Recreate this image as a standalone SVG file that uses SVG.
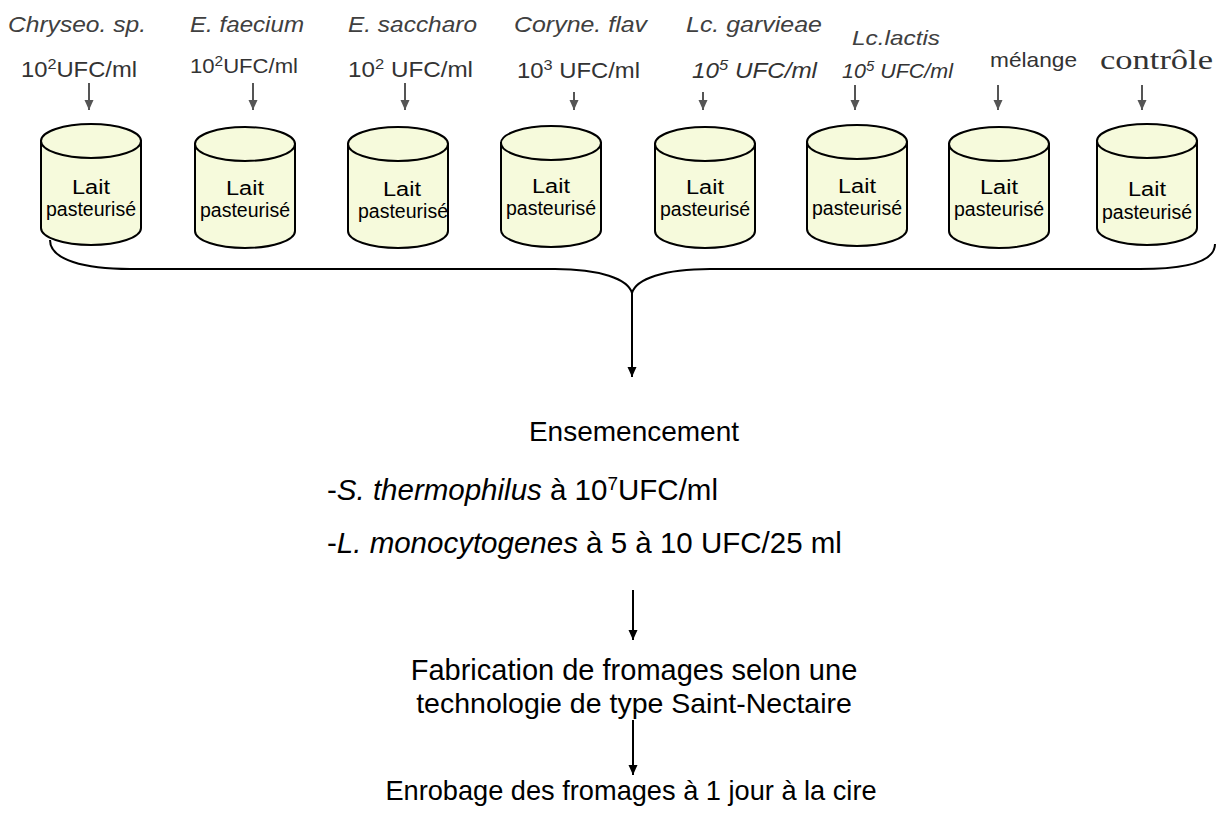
<svg xmlns="http://www.w3.org/2000/svg" width="1222" height="826" viewBox="0 0 1222 826">
<defs>
<style>
text{font-family:"Liberation Sans",Arial,sans-serif}
.sp{font-size:22px;font-style:italic;fill:#404040}
.cc{font-size:22px;fill:#333}
.ci{font-size:22px;font-style:italic;fill:#333}
.ser{font-family:"Liberation Serif","Times New Roman",serif;font-size:27px;fill:#333}
.cyl{fill:#f6fadc;stroke:#000;stroke-width:2}
.lt{font-size:20px;fill:#000;text-anchor:middle}
.main{font-size:28px;fill:#000}
.sa{stroke:#555;stroke-width:2;fill:none}
.ba{stroke:#000;stroke-width:2;fill:none}
</style>
<marker id="ah" viewBox="0 0 10 10" refX="10" refY="5" markerWidth="10" markerHeight="10" markerUnits="userSpaceOnUse" orient="auto"><path d="M0,0.5 L10,5 L0,9.5 Z" fill="#555"/></marker>
<marker id="bh" viewBox="0 0 10 10" refX="10" refY="5" markerWidth="11" markerHeight="10" markerUnits="userSpaceOnUse" orient="auto"><path d="M0,0.5 L10,5 L0,9.5 Z" fill="#000"/></marker>
<g id="cylshape">
<path class="cyl" d="M-50,17 L-50,104 A50,17 0 0 0 50,104 L50,17 Z"/>
<ellipse class="cyl" cx="0" cy="17" rx="50" ry="17"/>
</g>
</defs>

<g id="labels">
<text class="sp" x="8" y="32" textLength="138" lengthAdjust="spacingAndGlyphs">Chryseo. sp.</text>
<text class="sp" x="190" y="32" textLength="114" lengthAdjust="spacingAndGlyphs">E. faecium</text>
<text class="sp" x="348" y="32" textLength="129" lengthAdjust="spacingAndGlyphs">E. saccharo</text>
<text class="sp" x="514" y="32" textLength="133" lengthAdjust="spacingAndGlyphs">Coryne. flav</text>
<text class="sp" x="686" y="32" textLength="136" lengthAdjust="spacingAndGlyphs">Lc. garvieae</text>
<text class="sp" x="852" y="45" textLength="88" lengthAdjust="spacingAndGlyphs" style="font-size:21px">Lc.lactis</text>

<text class="cc" x="21" y="77" textLength="116" lengthAdjust="spacingAndGlyphs">10<tspan dy="-8" font-size="15">2</tspan><tspan dy="8">UFC/ml</tspan></text>
<text class="cc" x="190" y="73" textLength="108" lengthAdjust="spacingAndGlyphs" style="font-size:20px">10<tspan dy="-7" font-size="14">2</tspan><tspan dy="7">UFC/ml</tspan></text>
<text class="cc" x="348" y="77" textLength="125" lengthAdjust="spacingAndGlyphs">10<tspan dy="-8" font-size="15">2</tspan><tspan dy="8"> UFC/ml</tspan></text>
<text class="cc" x="517" y="78" textLength="123" lengthAdjust="spacingAndGlyphs">10<tspan dy="-8" font-size="15">3</tspan><tspan dy="8"> UFC/ml</tspan></text>
<text class="ci" x="692" y="78" textLength="125" lengthAdjust="spacingAndGlyphs">10<tspan dy="-8" font-size="15">5</tspan><tspan dy="8"> UFC/ml</tspan></text>
<text class="ci" x="842" y="78" textLength="111" lengthAdjust="spacingAndGlyphs" style="font-size:20px">10<tspan dy="-7" font-size="14">5</tspan><tspan dy="7"> UFC/ml</tspan></text>
<text class="cc" x="990" y="67" textLength="87" lengthAdjust="spacingAndGlyphs" style="font-size:21px">mélange</text>
<text class="ser" x="1100" y="69" textLength="113" lengthAdjust="spacingAndGlyphs">contrôle</text>
</g>

<g id="cyl1" transform="translate(91,124)"><use href="#cylshape"/><text class="lt" x="0" y="70" textLength="38" lengthAdjust="spacingAndGlyphs">Lait</text><text class="lt" x="0" y="92" textLength="90" lengthAdjust="spacingAndGlyphs">pasteurisé</text></g>
<g id="cyl2" transform="translate(245,127)"><use href="#cylshape"/><text class="lt" x="0" y="68" textLength="38" lengthAdjust="spacingAndGlyphs">Lait</text><text class="lt" x="0" y="90" textLength="90" lengthAdjust="spacingAndGlyphs">pasteurisé</text></g>
<g id="cyl3" transform="translate(398,127)"><use href="#cylshape"/><text class="lt" x="4" y="69" textLength="38" lengthAdjust="spacingAndGlyphs">Lait</text><text class="lt" x="5" y="91" textLength="90" lengthAdjust="spacingAndGlyphs">pasteurisé</text></g>
<g id="cyl4" transform="translate(551,126)"><use href="#cylshape"/><text class="lt" x="0" y="67" textLength="38" lengthAdjust="spacingAndGlyphs">Lait</text><text class="lt" x="0" y="89" textLength="90" lengthAdjust="spacingAndGlyphs">pasteurisé</text></g>
<g id="cyl5" transform="translate(705,127)"><use href="#cylshape"/><text class="lt" x="0" y="67" textLength="38" lengthAdjust="spacingAndGlyphs">Lait</text><text class="lt" x="0" y="89" textLength="90" lengthAdjust="spacingAndGlyphs">pasteurisé</text></g>
<g id="cyl6" transform="translate(857,125)"><use href="#cylshape"/><text class="lt" x="0" y="68" textLength="38" lengthAdjust="spacingAndGlyphs">Lait</text><text class="lt" x="0" y="90" textLength="90" lengthAdjust="spacingAndGlyphs">pasteurisé</text></g>
<g id="cyl7" transform="translate(999,127)"><use href="#cylshape"/><text class="lt" x="0" y="67" textLength="38" lengthAdjust="spacingAndGlyphs">Lait</text><text class="lt" x="0" y="89" textLength="90" lengthAdjust="spacingAndGlyphs">pasteurisé</text></g>
<g id="cyl8" transform="translate(1147,124)"><use href="#cylshape"/><text class="lt" x="0" y="72" textLength="38" lengthAdjust="spacingAndGlyphs">Lait</text><text class="lt" x="0" y="95" textLength="90" lengthAdjust="spacingAndGlyphs">pasteurisé</text></g>

<g id="steps">
<text class="main" x="634" y="441" text-anchor="middle">Ensemencement</text>
<text class="main" x="327" y="500" style="font-size:29.5px">-<tspan font-style="italic">S. thermophilus</tspan> à 10<tspan dy="-10" font-size="19">7</tspan><tspan dy="10">UFC/ml</tspan></text>
<text class="main" x="327" y="553" style="font-size:29.5px">-<tspan font-style="italic">L. monocytogenes</tspan> à 5 à 10 UFC/25 ml</text>
<text class="main" x="634" y="680" text-anchor="middle" style="font-size:29px">Fabrication de fromages selon une</text>
<text class="main" x="634" y="713" text-anchor="middle" style="font-size:28.5px">technologie de type Saint-Nectaire</text>
<text class="main" x="631" y="800" text-anchor="middle" style="font-size:27.2px">Enrobage des fromages à 1 jour à la cire</text>
</g>

<g id="connectors">
<line class="sa" x1="89" y1="83" x2="89" y2="110" marker-end="url(#ah)"/>
<line class="sa" x1="253" y1="83" x2="253" y2="110" marker-end="url(#ah)"/>
<line class="sa" x1="405" y1="83" x2="405" y2="110" marker-end="url(#ah)"/>
<line class="sa" x1="574" y1="92" x2="574" y2="110" marker-end="url(#ah)"/>
<line class="sa" x1="703" y1="92" x2="703" y2="110" marker-end="url(#ah)"/>
<line class="sa" x1="855" y1="85" x2="855" y2="110" marker-end="url(#ah)"/>
<line class="sa" x1="998" y1="85" x2="998" y2="110" marker-end="url(#ah)"/>
<line class="sa" x1="1142" y1="85" x2="1142" y2="110" marker-end="url(#ah)"/>
<path class="ba" d="M50,240 C50,260 85,269 130,269 L555,269 C600,269 628,279 632,293 C636,279 664,269 710,269 L1140,269 C1185,269 1215,262 1215,244"/>
<line class="ba" x1="632" y1="293" x2="632" y2="377" marker-end="url(#bh)"/>
<line class="ba" x1="633" y1="590" x2="633" y2="640" marker-end="url(#bh)"/>
<line class="ba" x1="633" y1="720" x2="633" y2="775" marker-end="url(#bh)"/>
</g>
</svg>
